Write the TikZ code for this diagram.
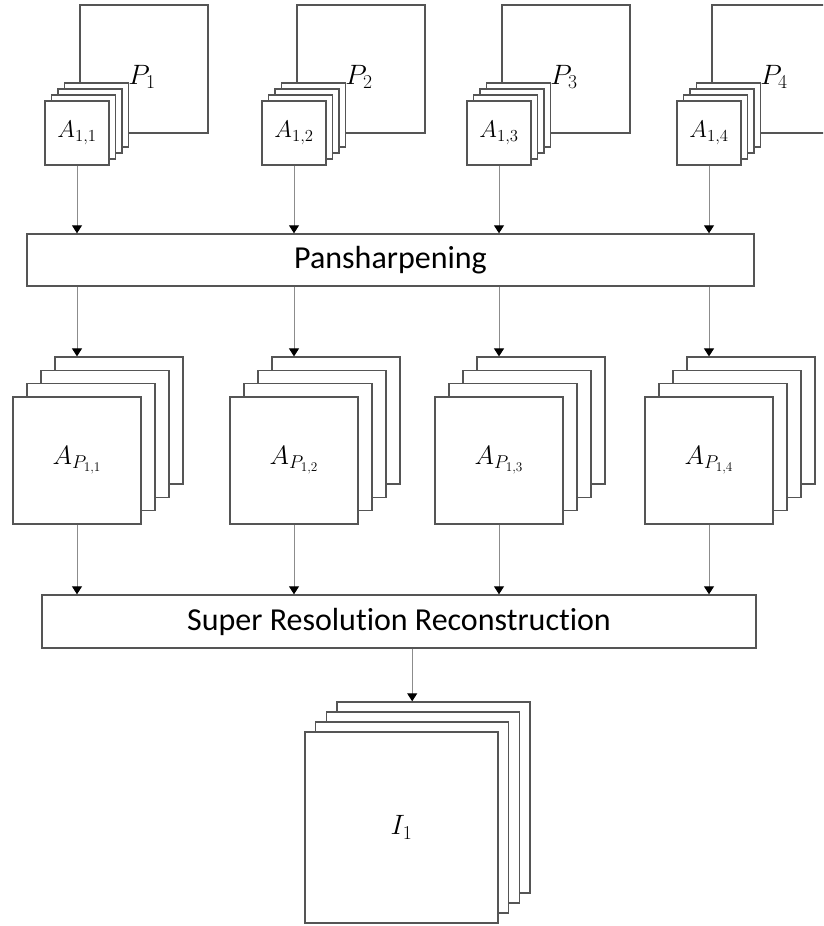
\RequirePackage{fix-cm}
\documentclass[tikz,border=0pt]{standalone}
\usepackage{fontspec}
\setmainfont[Ligatures=NoCommon]{Carlito}
\usetikzlibrary{arrows.meta,positioning}

\definecolor{edgegray}{RGB}{85,85,85}
\definecolor{flowgray}{RGB}{140,140,140}

\newcommand{\plab}[1]{\fontsize{28}{32}\selectfont$P_{#1}$}

\begin{document}
\begin{tikzpicture}[
    x=1pt, y=-1pt,
    sheet/.style={rectangle, draw=edgegray, fill=white, line width=1.4pt, inner sep=0pt},
    pansq/.style={sheet, minimum width=128pt, minimum height=128pt},
    plabel/.style={xshift=-2pt, yshift=-8pt},
    tile/.style={sheet, minimum width=64pt, minimum height=64pt, font=\fontsize{24}{27}\selectfont},
    bigtile/.style={sheet, minimum width=128pt, minimum height=127pt, font=\fontsize{26.5}{30}\selectfont},
    outtile/.style={sheet, minimum width=193pt, minimum height=191pt, font=\fontsize{28}{32}\selectfont},
    stage/.style={sheet, font=\fontsize{32}{36}\selectfont},
    arrow/.style={-{Triangle[width=10pt,length=8pt,color=black]}, draw=flowgray, line width=1pt}
]
\clip (0,0) rectangle (823,926);

% Processing stages
\node[stage, minimum width=727pt, minimum height=52pt] (pan) at (390.5,260) {Pansharpening};
\node[stage, minimum width=714pt, minimum height=53pt] (sr) at (399,621.5) {Super Resolution Reconstruction};

% Input tiles: panchromatic square with stack of multispectral bands
\foreach \i/\cx in {1/77, 2/294, 3/499, 4/709} {
    \node[pansq, label={[plabel]center:\plab{\i}}] (p\i) at (\cx+67,69) {};
    \foreach \k in {3,2,1}
        \node[tile] (a\i b\k) at (\cx+6.5*\k,133-6*\k) {};
    \node[tile] (a\i) at (\cx,133) {$A_{1,\i}$};

    % Pansharpened stacks
    \foreach \k in {3,2,1}
        \node[bigtile] (ap\i b\k) at (\cx+14*\k,460.5-13.3*\k) {};
    \node[bigtile] (ap\i) at (\cx,460.5) {$A_{P_{1,\i}}$};

    \draw[arrow] (a\i.south) -- (a\i.south |- pan.north);
    \draw[arrow] (pan.south -| ap\i) -- (ap\i |- ap\i b3.north);
    \draw[arrow] (ap\i.south) -- (ap\i.south |- sr.north);
}

% Output stack
\foreach \k in {3,2,1}
    \node[outtile] (ib\k) at (401.5+10.7*\k,827.5-10*\k) {};
\node[outtile] (img) at (401.5,827.5) {$I_1$};

\draw[arrow] (sr.south -| ib1) -- (ib1 |- ib3.north);

\end{tikzpicture}
\end{document}
